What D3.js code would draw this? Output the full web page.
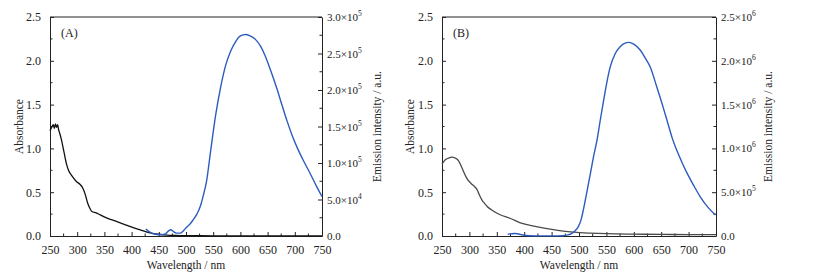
<!DOCTYPE html>
<html>
<head>
<meta charset="utf-8">
<script src="https://cdn.jsdelivr.net/npm/d3@7"></script>
<style>
  body { margin: 0; background: #fff; }
  text { font-family: "Liberation Serif", "Times New Roman", serif; fill: #222; }
</style>
</head>
<body>
<div id="chart"></div>
<script>
// Panel A data
const absA_wl  = [250, 253, 256, 258, 260, 262, 264, 266, 268, 271, 275, 280, 284, 290, 299, 305, 310, 315, 319, 323, 327, 335, 342, 355, 372, 390, 403, 420, 434, 450, 465, 480, 500, 550, 600, 650, 700, 750];
const absA_val = [1.20, 1.24, 1.27, 1.23, 1.28, 1.24, 1.27, 1.21, 1.17, 1.10, 0.98, 0.83, 0.75, 0.69, 0.62, 0.59, 0.55, 0.47, 0.38, 0.32, 0.28, 0.265, 0.243, 0.205, 0.167, 0.125, 0.095, 0.062, 0.036, 0.02, 0.011, 0.007, 0.004, 0.002, 0.001, 0.001, 0.001, 0.001];
const emA_wl  = [426, 432, 440, 452, 462, 468, 472, 477, 482, 489, 495, 501, 507, 513, 520, 526, 532, 538, 545, 555, 564, 573, 582, 591, 600, 610, 618, 628, 637, 646, 656, 667, 677, 686, 695, 705, 716, 728, 740, 750];
const emA_val = [9.6e3, 6e3, 3.1e3, 1.8e3, 3.0e3, 7e3, 8.6e3, 6e3, 4e3, 4e3, 7e3, 1.2e4, 1.6e4, 2.2e4, 3.0e4, 4.0e4, 5.6e4, 7.6e4, 1.15e5, 1.68e5, 2.05e5, 2.34e5, 2.53e5, 2.66e5, 2.74e5, 2.76e5, 2.74e5, 2.69e5, 2.6e5, 2.46e5, 2.26e5, 2.02e5, 1.78e5, 1.57e5, 1.38e5, 1.2e5, 1.03e5, 8.6e4, 6.8e4, 5.4e4];

// Panel B data
const absB_wl  = [250, 256, 262, 268, 274, 280, 285, 289, 295, 303, 310, 314, 318, 323, 328, 332, 340, 356, 375, 393, 420, 453, 475, 496, 520, 551, 600, 650, 700, 750];
const absB_val = [0.82, 0.87, 0.89, 0.90, 0.89, 0.86, 0.80, 0.74, 0.66, 0.60, 0.56, 0.53, 0.47, 0.41, 0.37, 0.34, 0.30, 0.243, 0.20, 0.15, 0.11, 0.072, 0.053, 0.041, 0.033, 0.026, 0.021, 0.018, 0.016, 0.015];
const emB_wl  = [370, 376, 382, 388, 394, 400, 410, 430, 450, 470, 480, 487, 493, 499, 504, 508, 514, 521, 526, 533, 539, 545, 551, 557, 566, 575, 583, 591, 600, 612, 621, 630, 642, 654, 662, 670, 679, 688, 697, 709, 721, 735, 749];
const emB_val = [2.0e4, 2.4e4, 2.8e4, 2.5e4, 1.6e4, 8e3, 3e3, 1e3, 1e3, 3e3, 1.2e4, 3.0e4, 6.0e4, 1.1e5, 1.9e5, 3.0e5, 4.9e5, 7.2e5, 8.9e5, 1.1e6, 1.33e6, 1.55e6, 1.76e6, 1.93e6, 2.08e6, 2.16e6, 2.2e6, 2.21e6, 2.19e6, 2.12e6, 2.03e6, 1.93e6, 1.7e6, 1.46e6, 1.29e6, 1.12e6, 9.7e5, 8.4e5, 7.2e5, 5.8e5, 4.5e5, 3.3e5, 2.4e5];

const xTicks = [250, 300, 350, 400, 450, 500, 550, 600, 650, 700, 750];
const leftTicks = [0, 0.5, 1.0, 1.5, 2.0, 2.5];
const rightTicksA = [0, 5.0e4, 1.0e5, 1.5e5, 2.0e5, 2.5e5, 3.0e5];
const rightTicksB = [0, 5.0e5, 1.0e6, 1.5e6, 2.0e6, 2.5e6];

const W = 815, H = 280;
const svg = d3.select("#chart").append("svg")
  .attr("width", W).attr("height", H);

const panels = [
  { left: 50, right: 322, label: "(A)", absWl: absA_wl, absVal: absA_val, absColor: "#111",
    emWl: emA_wl, emVal: emA_val, rMax: 3.0e5, rTicks: rightTicksA, rTitleX: 381, lTitleX: 23 },
  { left: 442, right: 716, label: "(B)", absWl: absB_wl, absVal: absB_val, absColor: "#4a4a4a",
    emWl: emB_wl, emVal: emB_val, rMax: 2.5e6, rTicks: rightTicksB, rTitleX: 772, lTitleX: 414 }
];

const yTop = 17, yBottom = 236;

function sciLabel(sel, v) {
  if (v === 0) { sel.text("0.0"); return; }
  const e = Math.floor(Math.log10(v) + 1e-9);
  const m = v / Math.pow(10, e);
  sel.append("tspan").text(m.toFixed(1) + "×10");
  sel.append("tspan").attr("dy", -5).text(e);
}

panels.forEach(p => {
  const x = d3.scaleLinear().domain([250, 750]).range([p.left, p.right]);
  const yL = d3.scaleLinear().domain([0, 2.5]).range([yBottom, yTop]);
  const yR = d3.scaleLinear().domain([0, p.rMax]).range([yBottom, yTop]);
  const g = svg.append("g");

  // minor ticks
  const xMinor = d3.range(275, 750, 50);
  g.append("g").selectAll("line").data(xMinor).join("line")
    .attr("x1", d => x(d)).attr("x2", d => x(d))
    .attr("y1", yBottom).attr("y2", yBottom - 2.5)
    .attr("stroke", "#222");
  const yMinor = [0.25, 0.75, 1.25, 1.75, 2.25];
  g.append("g").selectAll("line").data(yMinor).join("line")
    .attr("x1", p.left).attr("x2", p.left + 2.5)
    .attr("y1", d => yL(d)).attr("y2", d => yL(d))
    .attr("stroke", "#222");
  const rMinor = p.rTicks.slice(1).map((d, i) => (d + p.rTicks[i]) / 2);
  g.append("g").selectAll("line").data(rMinor).join("line")
    .attr("x1", p.right).attr("x2", p.right - 2.5)
    .attr("y1", d => yR(d)).attr("y2", d => yR(d))
    .attr("stroke", "#222");

  // axes
  const xAxis = g.append("g").attr("transform", `translate(0,${yBottom})`)
    .call(d3.axisBottom(x).tickValues(xTicks).tickSizeInner(-4).tickSizeOuter(0).tickPadding(9));
  const lAxis = g.append("g").attr("transform", `translate(${p.left},0)`)
    .call(d3.axisLeft(yL).tickValues(leftTicks).tickFormat(d3.format(".1f")).tickSizeInner(-4).tickSizeOuter(0).tickPadding(9));
  const rAxis = g.append("g").attr("transform", `translate(${p.right},0)`)
    .call(d3.axisRight(yR).tickValues(p.rTicks).tickFormat("").tickSizeInner(-4).tickSizeOuter(0).tickPadding(5));
  rAxis.selectAll(".tick text").each(function(d) { sciLabel(d3.select(this), d); });
  [xAxis, lAxis, rAxis].forEach(a => {
    a.select(".domain").attr("stroke", "#222");
    a.selectAll(".tick line").attr("stroke", "#222");
    a.selectAll("text").attr("font-family", "Liberation Serif").attr("font-size", 12).attr("fill", "#222");
  });
  rAxis.selectAll(".tick text").attr("font-size", 11);
  rAxis.selectAll(".tick text tspan:nth-child(2)").attr("font-size", 7.5);
  // top frame
  g.append("line").attr("x1", p.left).attr("x2", p.right).attr("y1", yTop).attr("y2", yTop)
    .attr("stroke", "#222");

  // curves
  const absData = p.absWl.map((w, i) => [w, p.absVal[i]]);
  const emData = p.emWl.map((w, i) => [w, p.emVal[i]]);
  g.append("path").datum(absData)
    .attr("fill", "none").attr("stroke", p.absColor).attr("stroke-width", 1.3)
    .attr("d", d3.line().x(d => x(d[0])).y(d => yL(d[1])).curve(d3.curveMonotoneX));
  g.append("path").datum(emData)
    .attr("fill", "none").attr("stroke", "#2c5cbf").attr("stroke-width", 1.4)
    .attr("d", d3.line().x(d => x(d[0])).y(d => yR(d[1])).curve(d3.curveMonotoneX));

  // labels
  g.append("text").attr("x", p.left + 11).attr("y", 37).attr("font-size", 12).text(p.label);
  g.append("text").attr("x", (p.left + p.right) / 2).attr("y", 269)
    .attr("text-anchor", "middle").attr("font-size", 11.5).text("Wavelength / nm");
  g.append("text").attr("transform", `translate(${p.lTitleX},${(yTop + yBottom) / 2}) rotate(-90)`)
    .attr("text-anchor", "middle").attr("font-size", 11.5).text("Absorbance");
  g.append("text").attr("transform", `translate(${p.rTitleX},${(yTop + yBottom) / 2}) rotate(-90)`)
    .attr("text-anchor", "middle").attr("font-size", 11.5).text("Emission intensity / a.u.");
});
</script>
</body>
</html>
